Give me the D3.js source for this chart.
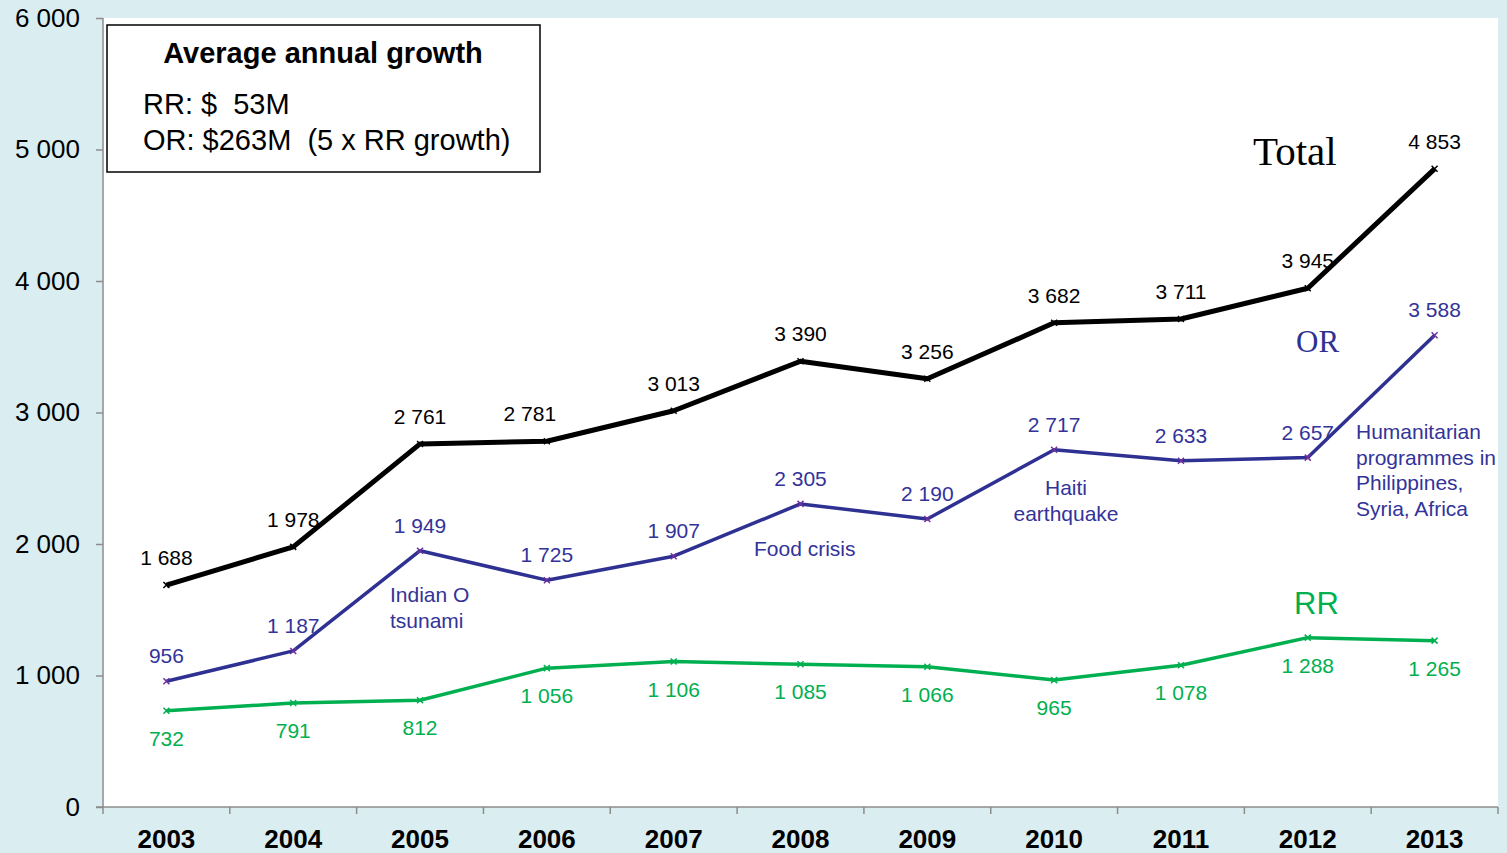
<!DOCTYPE html>
<html>
<head>
<meta charset="utf-8">
<script src="https://cdn.jsdelivr.net/npm/d3@7"></script>
<style>
  html, body { margin: 0; padding: 0; background: #daedf0; }
  svg { display: block; font-family: Arial, "Liberation Sans", sans-serif; }
</style>
</head>
<body>
<div id="chart"></div>
<script>
// --- data ---
const years = ["2003", "2004", "2005", "2006", "2007", "2008", "2009", "2010", "2011", "2012", "2013"];
const totalVals = [1688, 1978, 2761, 2781, 3013, 3390, 3256, 3682, 3711, 3945, 4853];
const orVals = [956, 1187, 1949, 1725, 1907, 2305, 2190, 2717, 2633, 2657, 3588];
const rrVals = [732, 791, 812, 1056, 1106, 1085, 1066, 965, 1078, 1288, 1265];
const yTicks = [0, 1000, 2000, 3000, 4000, 5000, 6000];

const W = 1507, H = 853;
const m = { left: 103, right: 9, top: 18, bottom: 46 };

const svg = d3.select("#chart").append("svg")
  .attr("width", W).attr("height", H);

// plot area
svg.append("rect")
  .attr("x", m.left).attr("y", m.top)
  .attr("width", W - m.left - m.right).attr("height", H - m.top - m.bottom)
  .attr("fill", "#fff");

const x = d3.scaleBand().domain(years).range([m.left, W - m.right]);
const y = d3.scaleLinear().domain([0, 6000]).range([H - m.bottom, m.top]);
const cx = d => x(d) + x.bandwidth() / 2;

const fmt = d3.format(",d");
const fmtLbl = v => fmt(v).replace(",", " ");

// y axis
const gy = svg.append("g").attr("transform", `translate(${m.left},0)`)
  .call(d3.axisLeft(y).tickValues(yTicks).tickSize(7).tickPadding(16).tickFormat(fmtLbl));
gy.selectAll("path, line").attr("stroke", "#8c8c8c").attr("stroke-width", 1.5);
gy.select(".domain").attr("d", `M0,${m.top}V${H - m.bottom}`);
gy.selectAll("text").attr("font-size", 26).attr("fill", "#000").attr("font-family", "Arial, 'Liberation Sans', sans-serif");

// x axis (ticks between categories)
const gx = svg.append("g");
gx.append("line")
  .attr("x1", m.left - 7).attr("x2", W - m.right)
  .attr("y1", y(0)).attr("y2", y(0))
  .attr("stroke", "#8c8c8c").attr("stroke-width", 1.5);
gx.selectAll(".xt").data(years.concat(["end"])).join("line")
  .attr("x1", (d, i) => m.left + i * x.step()).attr("x2", (d, i) => m.left + i * x.step())
  .attr("y1", y(0)).attr("y2", y(0) + 7)
  .attr("stroke", "#8c8c8c").attr("stroke-width", 1.5);
gx.selectAll(".xl").data(years).join("text")
  .attr("x", d => cx(d)).attr("y", 848)
  .attr("text-anchor", "middle")
  .attr("font-size", 26).attr("font-weight", "bold")
  .text(d => d);

// --- series ---
const series = [
  { name: "Total", vals: totalVals, color: "#000", mark: "#000", width: 5, lblColor: "#000", dy: -20 },
  { name: "OR", vals: orVals, color: "#2e3192", mark: "#7030a0", width: 3.5, lblColor: "#333399", dy: -18 },
  { name: "RR", vals: rrVals, color: "#00b050", mark: "#00b050", width: 3.5, lblColor: "#00b050", dy: 35 }
];

const line = d3.line().x((d, i) => cx(years[i])).y(d => y(d));

series.forEach(s => {
  const g = svg.append("g");
  g.append("path").datum(s.vals)
    .attr("d", line).attr("fill", "none")
    .attr("stroke", s.color).attr("stroke-width", s.width)
    .attr("stroke-linejoin", "round");
  // x markers
  g.selectAll("path.mk").data(s.vals).join("path")
    .attr("class", "mk")
    .attr("transform", (d, i) => `translate(${cx(years[i])},${y(d)})`)
    .attr("d", "M-3,-3L3,3M-3,3L3,-3")
    .attr("stroke", s.mark).attr("stroke-width", 1.5);
  // value labels
  g.selectAll("text").data(s.vals).join("text")
    .attr("x", (d, i) => cx(years[i]) + (s.name === "Total" && i === 3 ? -17 : 0))
    .attr("y", d => y(d) + s.dy)
    .attr("text-anchor", "middle")
    .attr("font-size", 21).attr("fill", s.lblColor)
    .text(d => fmtLbl(d));
});

// --- series names ---
svg.append("text").attr("x", 1253).attr("y", 165)
  .attr("font-family", "'Times New Roman', 'Liberation Serif', serif")
  .attr("font-size", 41).text("Total");
svg.append("text").attr("x", 1296).attr("y", 352)
  .attr("font-family", "'Times New Roman', 'Liberation Serif', serif")
  .attr("font-size", 31).attr("fill", "#2e3192").text("OR");
svg.append("text").attr("x", 1294).attr("y", 614)
  .attr("font-size", 31).attr("fill", "#00b050").text("RR");

// --- event annotations ---
const notes = [
  { x: 390, y: 602, lines: ["Indian O", "tsunami"], anchor: "start" },
  { x: 754, y: 556, lines: ["Food crisis"], anchor: "start" },
  { x: 1066, y: 495, lines: ["Haiti", "earthquake"], anchor: "middle" },
  { x: 1356, y: 439, lines: ["Humanitarian", "programmes in", "Philippines,", "Syria, Africa"], anchor: "start" }
];
notes.forEach(n => {
  const t = svg.append("text").attr("font-size", 21).attr("fill", "#333399")
    .attr("text-anchor", n.anchor);
  n.lines.forEach((l, i) => {
    t.append("tspan").attr("x", n.x).attr("y", n.y + i * 25.5).text(l);
  });
});

// --- growth box ---
svg.append("rect").attr("x", 107).attr("y", 25).attr("width", 433).attr("height", 147)
  .attr("fill", "#fff").attr("stroke", "#000").attr("stroke-width", 1.5);
svg.append("text").attr("x", 323).attr("y", 63).attr("text-anchor", "middle")
  .attr("font-size", 29).attr("font-weight", "bold").text("Average annual growth");
svg.append("text").attr("x", 143).attr("y", 114).attr("font-size", 29)
  .style("white-space", "pre").text("RR: $  53M");
svg.append("text").attr("x", 143).attr("y", 150).attr("font-size", 29)
  .style("white-space", "pre").text("OR: $263M  (5 x RR growth)");
</script>
</body>
</html>
